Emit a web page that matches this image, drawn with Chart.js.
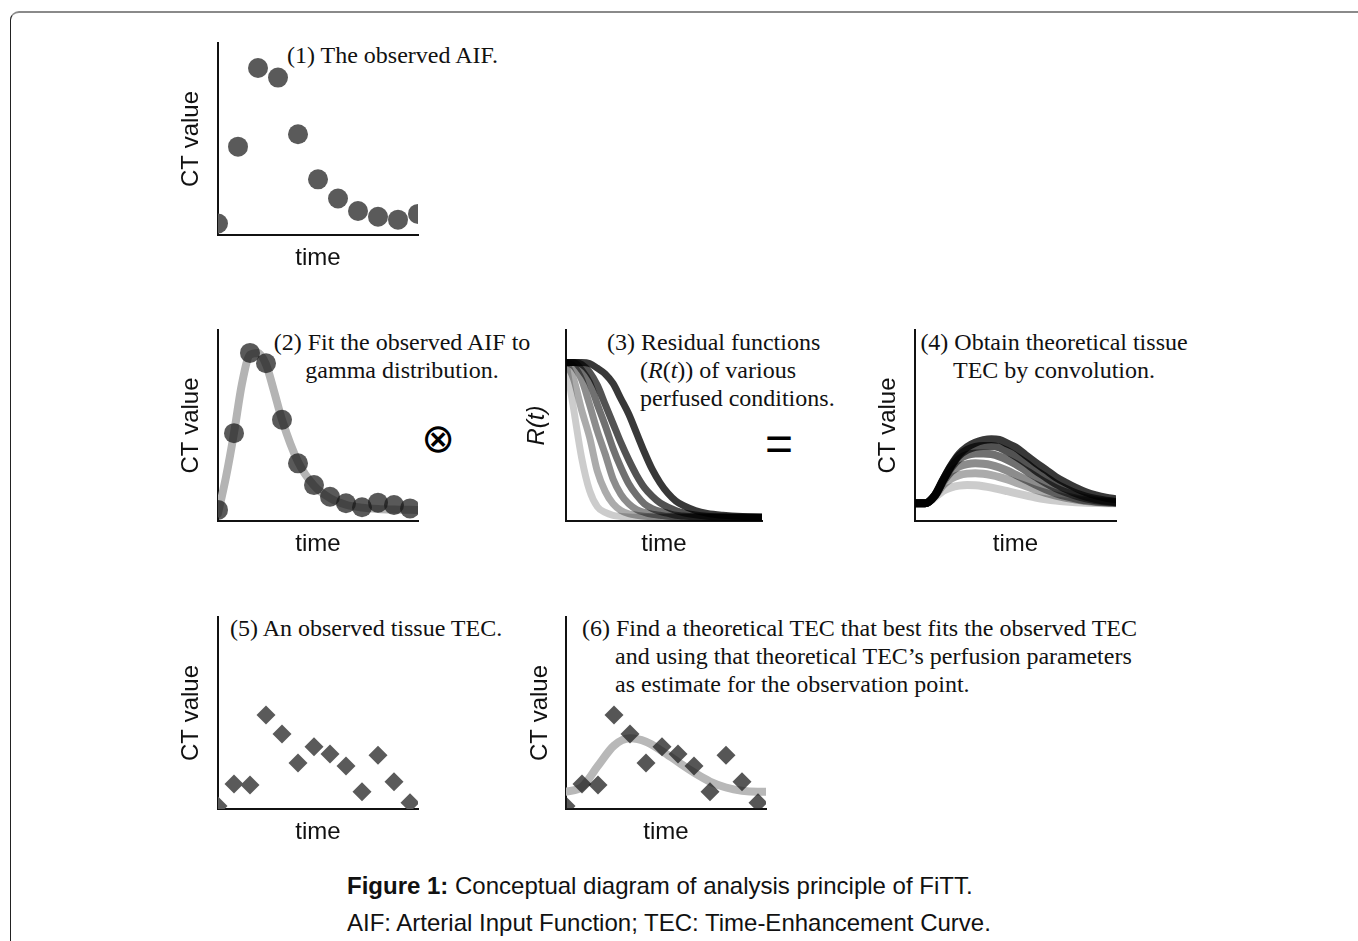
<!DOCTYPE html>
<html>
<head>
<meta charset="utf-8">
<title>Figure 1: FiTT</title>
<script src="https://cdn.jsdelivr.net/npm/chart.js@4.4.1/dist/chart.umd.min.js"></script>
<style>
  html, body { margin: 0; padding: 0; background: #fff; }
  body { width: 1358px; height: 941px; position: relative; overflow: hidden; font-family: "Liberation Sans", Arial, sans-serif; }
  .frame { position: absolute; left: 10px; top: 11px; width: 1400px; height: 1000px; border-top: 2px solid #8a8a8a; border-left: 1px solid #222; border-top-left-radius: 9px; }
  canvas.panel { position: absolute; }
  .note { position: absolute; font-family: "Liberation Serif", "Times New Roman", serif; font-size: 24px; line-height: 28px; color: #111; white-space: nowrap; }
  .hang { padding-left: 33px; text-indent: -33px; }
  .op { position: absolute; width: 60px; text-align: center; color: #000; }
  .caption { position: absolute; left: 347px; font-size: 24px; line-height: 28px; color: #111; white-space: nowrap; }
</style>
</head>
<body>
<div class="frame"></div>

<div class="note" style="left:287px; top:41px">(1) The observed AIF.</div>
<div class="note" style="left:202px; width:400px; text-align:center; top:328px">(2) Fit the observed AIF to<br>gamma distribution.</div>
<div class="note hang" style="left:607px; top:328px">(3) Residual functions<br>(<i>R</i>(<i>t</i>)) of various<br>perfused conditions.</div>
<div class="note" style="left:854px; width:400px; text-align:center; top:328px">(4) Obtain theoretical tissue<br>TEC by convolution.</div>
<div class="note" style="left:230px; top:614px">(5) An observed tissue TEC.</div>
<div class="note hang" style="left:582px; top:614px">(6) Find a theoretical TEC that best fits the observed TEC<br>and using that theoretical TEC’s perfusion parameters<br>as estimate for the observation point.</div>

<div class="op" style="left:408px; top:418px; font-family:'DejaVu Sans', sans-serif; font-size:40px; line-height:40px">⊗</div>
<div class="op" style="left:749px; top:420px; font-family:'Liberation Sans', sans-serif; font-size:48px; line-height:48px">=</div>

<div class="caption" style="top:872px"><b>Figure 1:</b> Conceptual diagram of analysis principle of FiTT.</div>
<div class="caption" style="top:909px">AIF: Arterial Input Function; TEC: Time-Enhancement Curve.</div>

<script>
// (1) observed AIF
const aifTime = [0, 1, 2, 3, 4, 5, 6, 7, 8, 9, 10];
const aifValue = [6, 46, 87, 82, 52.5, 29, 19, 12.5, 9.5, 8, 11];

// (2) observed AIF + gamma fit
const fitTime = [0, 1, 2, 3, 4, 5, 6, 7, 8, 9, 10, 11, 12];
const fitValue = [5.8, 46, 88, 82.6, 53, 30.2, 18.8, 12.7, 9.3, 7.2, 9.6, 8.4, 6.6];
const gammaTime = [0, 0.5, 1, 1.5, 2, 2.5, 3, 3.5, 4, 5, 6, 7, 8, 9, 10, 11, 12.5];
const gammaValue = [4, 23, 46, 72, 87, 88, 82, 68, 53, 31, 18.5, 12, 8.5, 7, 6.3, 6, 5.8];

// (3) residual functions R(t), light -> dark
const resTime = [0, 4, 8, 12, 16, 20, 24, 28, 32, 36, 40, 44, 48, 52, 56, 60, 66, 72, 80, 90, 100];
const res1 = [83, 58, 33, 16, 7.5, 4.5, 3, 2.4, 2.1, 2, 2, 2, 2, 2, 2, 2, 2, 2, 2, 2, 2];
const res2 = [83, 74, 58, 44, 26, 15.5, 9, 5.5, 3.8, 3, 2.5, 2.2, 2, 2, 2, 2, 2, 2, 2, 2, 2];
const res3 = [83, 81, 74, 61, 47, 35, 22, 14, 9, 6, 4.5, 3.5, 3, 2.5, 2.2, 2, 2, 2, 2, 2, 2];
const res4 = [83, 83, 79, 72.5, 61, 50, 38, 28, 19.5, 13.5, 9, 6.5, 5, 4, 3, 2.6, 2.2, 2, 2, 2, 2];
const res5 = [83, 83, 82, 78, 71, 61, 51, 41, 32, 24, 17.5, 13, 9.5, 7.2, 5.5, 4.3, 3.2, 2.5, 2.1, 2, 2];
const res6 = [83, 83, 83, 82.5, 80, 77, 72, 64, 56, 46, 36, 27, 20, 14.5, 10.5, 8, 5.5, 4, 3, 2.3, 2];

// (4) theoretical tissue TECs, light -> dark
const tecTime = [0, 5, 10, 14, 18, 22, 26, 30, 34, 38, 42, 46, 50, 55, 60, 65, 70, 75, 80, 85, 90, 95, 100];
const tec1 = [9.3, 9.3, 12.5, 15.8, 17.6, 18.5, 18.8, 18.7, 18.2, 17.5, 16.6, 15.6, 14.6, 13.4, 12.3, 11.4, 10.7, 10.2, 9.8, 9.5, 9.4, 9.3, 9.3];
const tec2 = [9.3, 9.3, 13.2, 18.8, 22.2, 24, 24.8, 25, 24.7, 24, 23, 21.7, 20.2, 18.3, 16.4, 14.7, 13.3, 12.1, 11.2, 10.5, 10, 9.7, 9.5];
const tec3 = [9.3, 9.3, 13.5, 20.5, 25.8, 28.6, 29.8, 30.2, 30, 29.3, 28, 26.3, 24.3, 21.7, 19, 16.6, 14.6, 13, 11.8, 10.8, 10.2, 9.8, 9.6];
const tec4 = [9.3, 9.3, 13.6, 21.3, 28, 32.5, 34.6, 35.3, 35.4, 35, 33.8, 32, 29.8, 26.5, 23.2, 20, 17.2, 15, 13.2, 11.8, 10.8, 10.2, 9.8];
const tec5 = [9.3, 9.3, 13.6, 21.5, 28.8, 34.3, 37.3, 38.8, 39.3, 39.3, 38.5, 36.5, 34, 30.5, 26.5, 23, 19.5, 16.8, 14.5, 12.8, 11.5, 10.6, 10];
const tec6 = [9.3, 9.3, 13.6, 21.5, 29, 35, 38.8, 41, 42.3, 42.8, 42.5, 40.5, 38.5, 34.5, 30.5, 26.8, 23, 20, 17.3, 15, 13.4, 12.2, 11.4];

// (5)/(6) observed tissue TEC + best theoretical fit
const tisTime = [0, 1, 2, 3, 4, 5, 6, 7, 8, 9, 10, 11, 12];
const tisValue = [1.5, 13, 12.5, 49, 39, 24, 32.4, 28.6, 22.4, 9, 28, 14.2, 3.3];
const bestTime = [0, 1, 2, 3, 4, 5, 6, 7, 8, 9, 10, 11, 12, 12.5];
const bestValue = [9, 11.5, 22.5, 33, 36.8, 35, 30.2, 24.5, 19, 14.3, 11.2, 9.5, 9, 9];

const SANS = "'Liberation Sans', Arial, sans-serif";
const AXIS = "#111";
const shades = [0.2, 0.33, 0.45, 0.56, 0.68, 0.78];

const pts = (xs, ys) => xs.map((x, i) => ({ x: x, y: ys[i] }));

function dots(xs, ys, color, style, r) {
  return { data: pts(xs, ys), showLine: false, pointStyle: style, pointRadius: r, pointBackgroundColor: color, pointBorderWidth: 0, clip: 0 };
}
function curve(xs, ys, color, w) {
  return { data: pts(xs, ys), borderColor: color, borderWidth: w, pointRadius: 0, cubicInterpolationMode: "monotone", borderCapStyle: "round", clip: 0 };
}

// box = chart area in page pixels
function panel(box, xMax, yTitle, gap, datasets) {
  const c = document.createElement("canvas");
  c.className = "panel";
  c.width = box.r - box.l + 70;
  c.height = box.b - box.t + 50;
  c.style.left = (box.l - 60) + "px";
  c.style.top = (box.t - 10) + "px";
  document.body.appendChild(c);
  const italic = yTitle === "R(t)";
  return new Chart(c, {
    type: "line",
    data: { datasets: datasets },
    options: {
      responsive: false, animation: false, events: [],
      layout: { padding: { left: 10, right: 10, top: 10, bottom: 0 } },
      plugins: { legend: { display: false }, tooltip: { enabled: false } },
      scales: {
        x: {
          type: "linear", min: 0, max: xMax,
          grid: { display: false }, ticks: { display: false },
          border: { display: true, color: AXIS, width: 2 },
          title: { display: true, text: "time", color: AXIS, font: { family: SANS, size: 24, lineHeight: 1 }, padding: { top: 0, bottom: 5 } },
          afterFit: s => { s.height = 40; }
        },
        y: {
          min: 0, max: 100,
          grid: { display: false }, ticks: { display: false },
          border: { display: true, color: AXIS, width: 2 },
          title: { display: true, text: yTitle, color: AXIS, font: { family: SANS, size: 24, lineHeight: 1, style: italic ? "italic" : "normal" }, padding: { top: 38 - gap, bottom: 0 } },
          afterFit: s => { s.width = 50; }
        }
      }
    }
  });
}

const res = [res1, res2, res3, res4, res5, res6];
const tec = [tec1, tec2, tec3, tec4, tec5, tec6];

panel({ l: 218, t: 43, r: 418, b: 235 }, 10, "CT value", 27, [
  dots(aifTime, aifValue, "#5a5a5a", "circle", 10)
]);

panel({ l: 218, t: 330, r: 418, b: 521 }, 12.5, "CT value", 27, [
  dots(fitTime, fitValue, "rgba(25,25,25,0.72)", "circle", 10),
  curve(gammaTime, gammaValue, "#b4b4b4", 8)
]);

// darkest first so it is drawn on top
panel({ l: 566, t: 330, r: 762, b: 521 }, 100, "R(t)", 29,
  res.map((ys, k) => curve(resTime, ys, "rgba(0,0,0," + shades[k] + ")", 7)).reverse()
);

panel({ l: 915, t: 330, r: 1116, b: 521 }, 100, "CT value", 27,
  tec.map((ys, k) => curve(tecTime, ys, "rgba(0,0,0," + shades[k] + ")", 8)).reverse()
);

panel({ l: 218, t: 617, r: 418, b: 809 }, 12.5, "CT value", 27, [
  dots(tisTime, tisValue, "#5a5a5a", "rectRot", 9.5)
]);

panel({ l: 566, t: 617, r: 766, b: 809 }, 12.5, "CT value", 26, [
  dots(tisTime, tisValue, "rgba(30,30,30,0.75)", "rectRot", 9.5),
  curve(bestTime, bestValue, "#b8b8b8", 8)
]);
</script>
</body>
</html>
